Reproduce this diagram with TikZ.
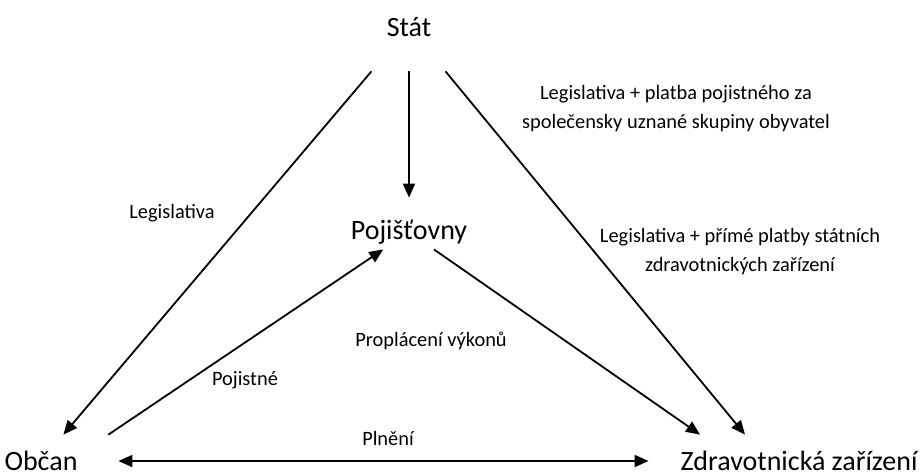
\documentclass[tikz,border=0pt]{standalone}
\usepackage{fontspec}
\setmainfont{Carlito}
\usetikzlibrary{arrows.meta}
\tikzset{
  party/.style={font=\fontsize{14}{17}\selectfont, inner sep=0pt},
  note/.style={font=\fontsize{10.2}{14.5}\selectfont, align=center, inner sep=0pt},
  tip/.tip={Triangle[length=7pt,width=6pt]},
  flow/.style={line width=0.9pt, -tip}
}
\begin{document}
\begin{tikzpicture}[x=0.5pt, y=-0.5pt]
  \useasboundingbox (0,0) rectangle (920,472);

  % Subjects
  \node[party, minimum width=45pt, minimum height=44pt] (stat) at (409,27) {Stát};
  \node[party, minimum height=17pt] (pojistovny) at (409,232) {Pojišťovny};
  \node[party, minimum width=67pt, minimum height=26pt] (obcan) at (41,461) {Občan};
  \node[party, minimum width=150pt, minimum height=26pt] (zarizeni) at (799,461) {Zdravotnická zařízení};

  % Flows
  \draw[flow] (stat) -- (obcan);
  \draw[flow, shorten >=8.5pt] (stat) -- (pojistovny);
  \draw[flow] (stat) -- ([xshift=-27pt]zarizeni.north);
  \draw[flow] (obcan.north east) -- (pojistovny);
  \draw[flow] (pojistovny) -- ([xshift=-49.5pt]zarizeni.north);
  \draw[flow, tip-tip, shorten <=5pt] (obcan) -- (zarizeni);

  % Labels
  \node[note] (legislativa) at (172,213) {Legislativa};
  \node[note] (platba) at (676,109) {Legislativa + platba pojistného za\\společensky uznané skupiny obyvatel};
  \node[note] (prime) at (740,252) {Legislativa + přímé platby státních\\zdravotnických zařízení};
  \node[note] (proplaceni) at (431,341) {Proplácení výkonů};
  \node[note] (pojistne) at (245,380) {Pojistné};
  \node[note] (plneni) at (388,438) {Plnění};
\end{tikzpicture}
\end{document}
